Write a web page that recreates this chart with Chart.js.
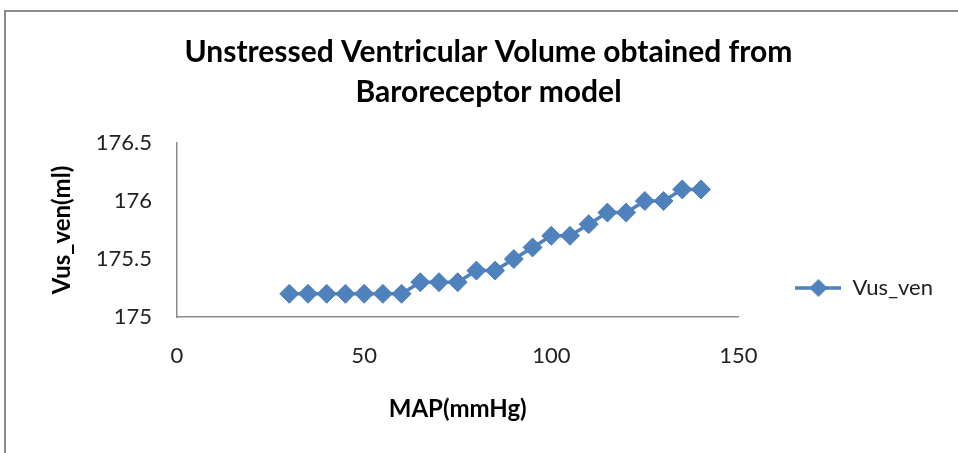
<!DOCTYPE html>
<html>
<head>
<meta charset="utf-8">
<script src="https://cdn.jsdelivr.net/npm/chart.js@4/dist/chart.umd.min.js"></script>
<style>
    body { margin: 0; background: #fff; }
    #wrap { position: relative; width: 958px; height: 453px; overflow: hidden; }
    #frame { position: absolute; left: 4px; top: 10px; width: 980px; height: 480px; border: 2px solid #8c8c8c; pointer-events: none; }
</style>
</head>
<body>
<div id="wrap">
    <canvas id="chart" width="958" height="453"></canvas>
    <div id="frame"></div>
</div>
<script>
// MAP (mmHg) sur l'axe x
const mapValues = [30, 35, 40, 45, 50, 55, 60, 65, 70, 75, 80, 85, 90, 95, 100, 105, 110, 115, 120, 125, 130, 135, 140]
// Volume non contraint (ml)
const vusVen = [175.2, 175.2, 175.2, 175.2, 175.2, 175.2, 175.2, 175.3, 175.3, 175.3, 175.4, 175.4, 175.5, 175.6, 175.7, 175.7, 175.8, 175.9, 175.9, 176.0, 176.0, 176.1, 176.1]
const xTicks = [0, 50, 100, 150]
const yTicks = [175, 175.5, 176, 176.5]

const seriesName = 'Vus_ven'
const chartTitle = ['Unstressed Ventricular Volume obtained from', 'Baroreceptor model']
const xTitle = 'MAP(mmHg)'
const yTitle = 'Vus_ven(ml)'

const blue = '#4F81BD'
const axisGrey = '#8c8c8c'
const fontFam = 'Lato, "Open Sans", sans-serif'

let points = mapValues.map((x, i) => ({ x: x, y: vusVen[i] }))

// petite image pour la légende : trait + losange
function legendMarker() {
    const c = document.createElement('canvas')
    c.width = 46
    c.height = 20
    const g = c.getContext('2d')
    g.strokeStyle = blue
    g.lineWidth = 3.5
    g.beginPath()
    g.moveTo(0, 10)
    g.lineTo(46, 10)
    g.stroke()
    g.fillStyle = blue
    g.beginPath()
    g.moveTo(23, 1)
    g.lineTo(32, 10)
    g.lineTo(23, 19)
    g.lineTo(14, 10)
    g.closePath()
    g.fill()
    return c
}

// descend un peu la légende (comme dans Excel)
const legendShift = {
    id: 'legendShift',
    afterLayout(chart) {
        chart.legend.top += 39
        chart.legend.bottom += 39
    }
}

new Chart(
    document.getElementById('chart'),
    {
        type: 'line',
        data: {
            datasets: [
                {
                    label: seriesName,
                    data: points,
                    borderColor: blue,
                    backgroundColor: blue,
                    borderWidth: 3.5,
                    pointStyle: 'rectRot',
                    pointRadius: 9.5,
                    pointBorderWidth: 1,
                    tension: 0
                }
            ]
        },
        options: {
            responsive: false,
            animation: false,
            layout: { padding: { left: 34, right: 15, top: 0, bottom: 0 } },
            scales: {
                x: {
                    type: 'linear',
                    min: 0,
                    max: 150,
                    afterBuildTicks: s => { s.ticks = xTicks.map(v => ({ value: v })) },
                    afterFit: s => { s.height = 136 },
                    grid: { display: false, drawTicks: false },
                    border: { color: axisGrey, width: 1.5 },
                    ticks: { color: '#222', padding: 26, font: { family: fontFam, size: 22 }, callback: v => String(v) },
                    title: {
                        display: true,
                        text: xTitle,
                        color: '#000',
                        font: { family: fontFam, size: 24, weight: 'bold' },
                        padding: { top: 0, bottom: 29 }
                    }
                },
                y: {
                    type: 'linear',
                    min: 175,
                    max: 176.5,
                    afterBuildTicks: s => { s.ticks = yTicks.map(v => ({ value: v })) },
                    afterFit: s => { s.width = 143 },
                    grid: { display: false, drawTicks: false },
                    border: { color: axisGrey, width: 1.5 },
                    ticks: { color: '#222', padding: 25, font: { family: fontFam, size: 22 }, callback: v => String(v) },
                    title: {
                        display: true,
                        text: yTitle,
                        color: '#000',
                        font: { family: fontFam, size: 24, weight: 'bold' },
                        padding: { top: 14, bottom: 0 }
                    }
                }
            },
            plugins: {
                title: {
                    display: true,
                    text: chartTitle,
                    color: '#000',
                    font: { family: fontFam, size: 30, weight: 'bold', lineHeight: 1.333 },
                    padding: { top: 32, bottom: 31 }
                },
                legend: {
                    position: 'right',
                    align: 'end',
                    fullSize: false,
                    labels: {
                        color: '#222',
                        font: { family: fontFam, size: 22 },
                        usePointStyle: true,
                        pointStyle: legendMarker(),
                        pointStyleWidth: 46,
                        padding: 57
                    }
                },
                tooltip: { enabled: false }
            }
        },
        plugins: [legendShift]
    }
);
</script>
</body>
</html>
